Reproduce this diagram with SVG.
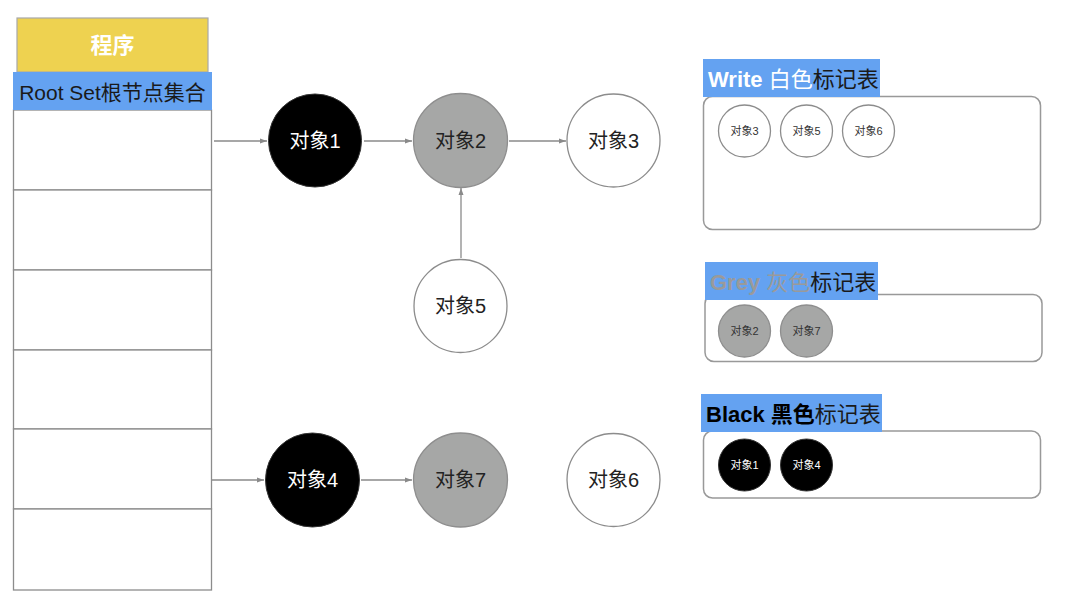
<svg xmlns="http://www.w3.org/2000/svg" width="1080" height="599" viewBox="0 0 1080 599">
<style>
text{font-family:"Liberation Sans","Noto Sans CJK SC",sans-serif}
.cell{fill:#fff;stroke:#8c8c8c;stroke-width:1.3}
.edge{stroke:#8a8a8a;stroke-width:1.3;fill:none;marker-end:url(#ah)}
.white{fill:#fff;stroke:#8c8c8c;stroke-width:1.3}
.grey{fill:#a6a7a6;stroke:#8e8e8e;stroke-width:1.3}
.black{fill:#000;stroke:#333;stroke-width:1}
.lbl{font-size:20px;text-anchor:middle;dominant-baseline:central}
.sm{font-size:11px;text-anchor:middle;dominant-baseline:central}
.panel{fill:#fff;stroke:#999;stroke-width:1.5}
.band{fill:#64a2f1}
.ttl{font-size:22px}
</style>
<defs>
<marker id="ah" markerWidth="8" markerHeight="8" refX="7" refY="4" orient="auto" markerUnits="userSpaceOnUse">
<path d="M0,1.5 L7,4 L0,6.5 Z" fill="#8a8a8a"/>
</marker>
</defs>
<rect width="1080" height="599" fill="#fff"/>

<g id="program">
<rect x="17" y="18" width="191" height="54" fill="#eed250" stroke="#a8a8a8" stroke-width="1.2"/>
<text x="112.5" y="45" font-size="22" font-weight="bold" fill="#fff" text-anchor="middle" dominant-baseline="central">程序</text>
</g>

<g id="rootset">
<rect x="13.5" y="110" width="198" height="80" class="cell"/>
<rect x="13.5" y="190" width="198" height="80" class="cell"/>
<rect x="13.5" y="270" width="198" height="80" class="cell"/>
<rect x="13.5" y="350" width="198" height="79" class="cell"/>
<rect x="13.5" y="429" width="198" height="80" class="cell"/>
<rect x="13.5" y="509" width="198" height="81" class="cell"/>
<rect x="13" y="72" width="199" height="38" class="band"/>
<text x="112.5" y="92" font-size="21" fill="#1a1a1a" text-anchor="middle" dominant-baseline="central">Root Set根节点集合</text>
</g>

<g id="connectors">
<line x1="214" y1="141" x2="267" y2="141" class="edge"/>
<line x1="364" y1="141" x2="412" y2="141" class="edge"/>
<line x1="509" y1="141" x2="566" y2="141" class="edge"/>
<line x1="461" y1="258" x2="461" y2="188" class="edge"/>
<line x1="212" y1="480" x2="264" y2="480" class="edge"/>
<line x1="361" y1="480" x2="412" y2="480" class="edge"/>
</g>

<g id="obj1"><circle cx="315" cy="140.5" r="46.5" class="black"/><text x="315" y="140.5" class="lbl" fill="#fff">对象1</text></g>
<g id="obj2"><circle cx="460.5" cy="140.5" r="47" class="grey"/><text x="460.5" y="140.5" class="lbl" fill="#222">对象2</text></g>
<g id="obj3"><circle cx="613.5" cy="140.5" r="46.5" class="white"/><text x="613.5" y="140.5" class="lbl" fill="#222">对象3</text></g>
<g id="obj5"><circle cx="460.5" cy="306" r="46.5" class="white"/><text x="460.5" y="306" class="lbl" fill="#222">对象5</text></g>
<g id="obj4"><circle cx="312.5" cy="480" r="47" class="black"/><text x="312.5" y="480" class="lbl" fill="#fff">对象4</text></g>
<g id="obj7"><circle cx="460.5" cy="480" r="47" class="grey"/><text x="460.5" y="480" class="lbl" fill="#222">对象7</text></g>
<g id="obj6"><circle cx="613.5" cy="480" r="46.5" class="white"/><text x="613.5" y="480" class="lbl" fill="#222">对象6</text></g>

<g id="white-table">
<rect x="703.5" y="96.5" width="337" height="133" rx="9" class="panel"/>
<rect x="703" y="59" width="177" height="38" class="band"/>
<text x="708" y="79" class="ttl" dominant-baseline="central"><tspan fill="#fff" font-weight="bold">Write </tspan><tspan fill="#fff">白色</tspan><tspan fill="#1a1a1a">标记表</tspan></text>
<circle cx="744.5" cy="131" r="26" class="white"/><text x="744.5" y="131" class="sm" fill="#333">对象3</text>
<circle cx="806.5" cy="131" r="26" class="white"/><text x="806.5" y="131" class="sm" fill="#333">对象5</text>
<circle cx="868.5" cy="131" r="26" class="white"/><text x="868.5" y="131" class="sm" fill="#333">对象6</text>
</g>

<g id="grey-table">
<rect x="705" y="294.5" width="337" height="67" rx="9" class="panel"/>
<rect x="705" y="262" width="173" height="38" class="band"/>
<text x="710" y="282" class="ttl" dominant-baseline="central"><tspan fill="#9a9a9a" font-weight="bold">Grey </tspan><tspan fill="#9a9a9a">灰色</tspan><tspan fill="#1a1a1a">标记表</tspan></text>
<circle cx="744.5" cy="331" r="26" class="grey"/><text x="744.5" y="331" class="sm" fill="#333">对象2</text>
<circle cx="806.5" cy="331" r="26" class="grey"/><text x="806.5" y="331" class="sm" fill="#333">对象7</text>
</g>

<g id="black-table">
<rect x="703.5" y="431" width="337" height="67" rx="9" class="panel"/>
<rect x="701" y="394" width="181" height="38" class="band"/>
<text x="706" y="414" class="ttl" dominant-baseline="central"><tspan fill="#000" font-weight="bold">Black 黑色</tspan><tspan fill="#1a1a1a">标记表</tspan></text>
<circle cx="744.5" cy="465" r="26" class="black"/><text x="744.5" y="465" class="sm" fill="#fff">对象1</text>
<circle cx="806.5" cy="465" r="26" class="black"/><text x="806.5" y="465" class="sm" fill="#fff">对象4</text>
</g>
</svg>
